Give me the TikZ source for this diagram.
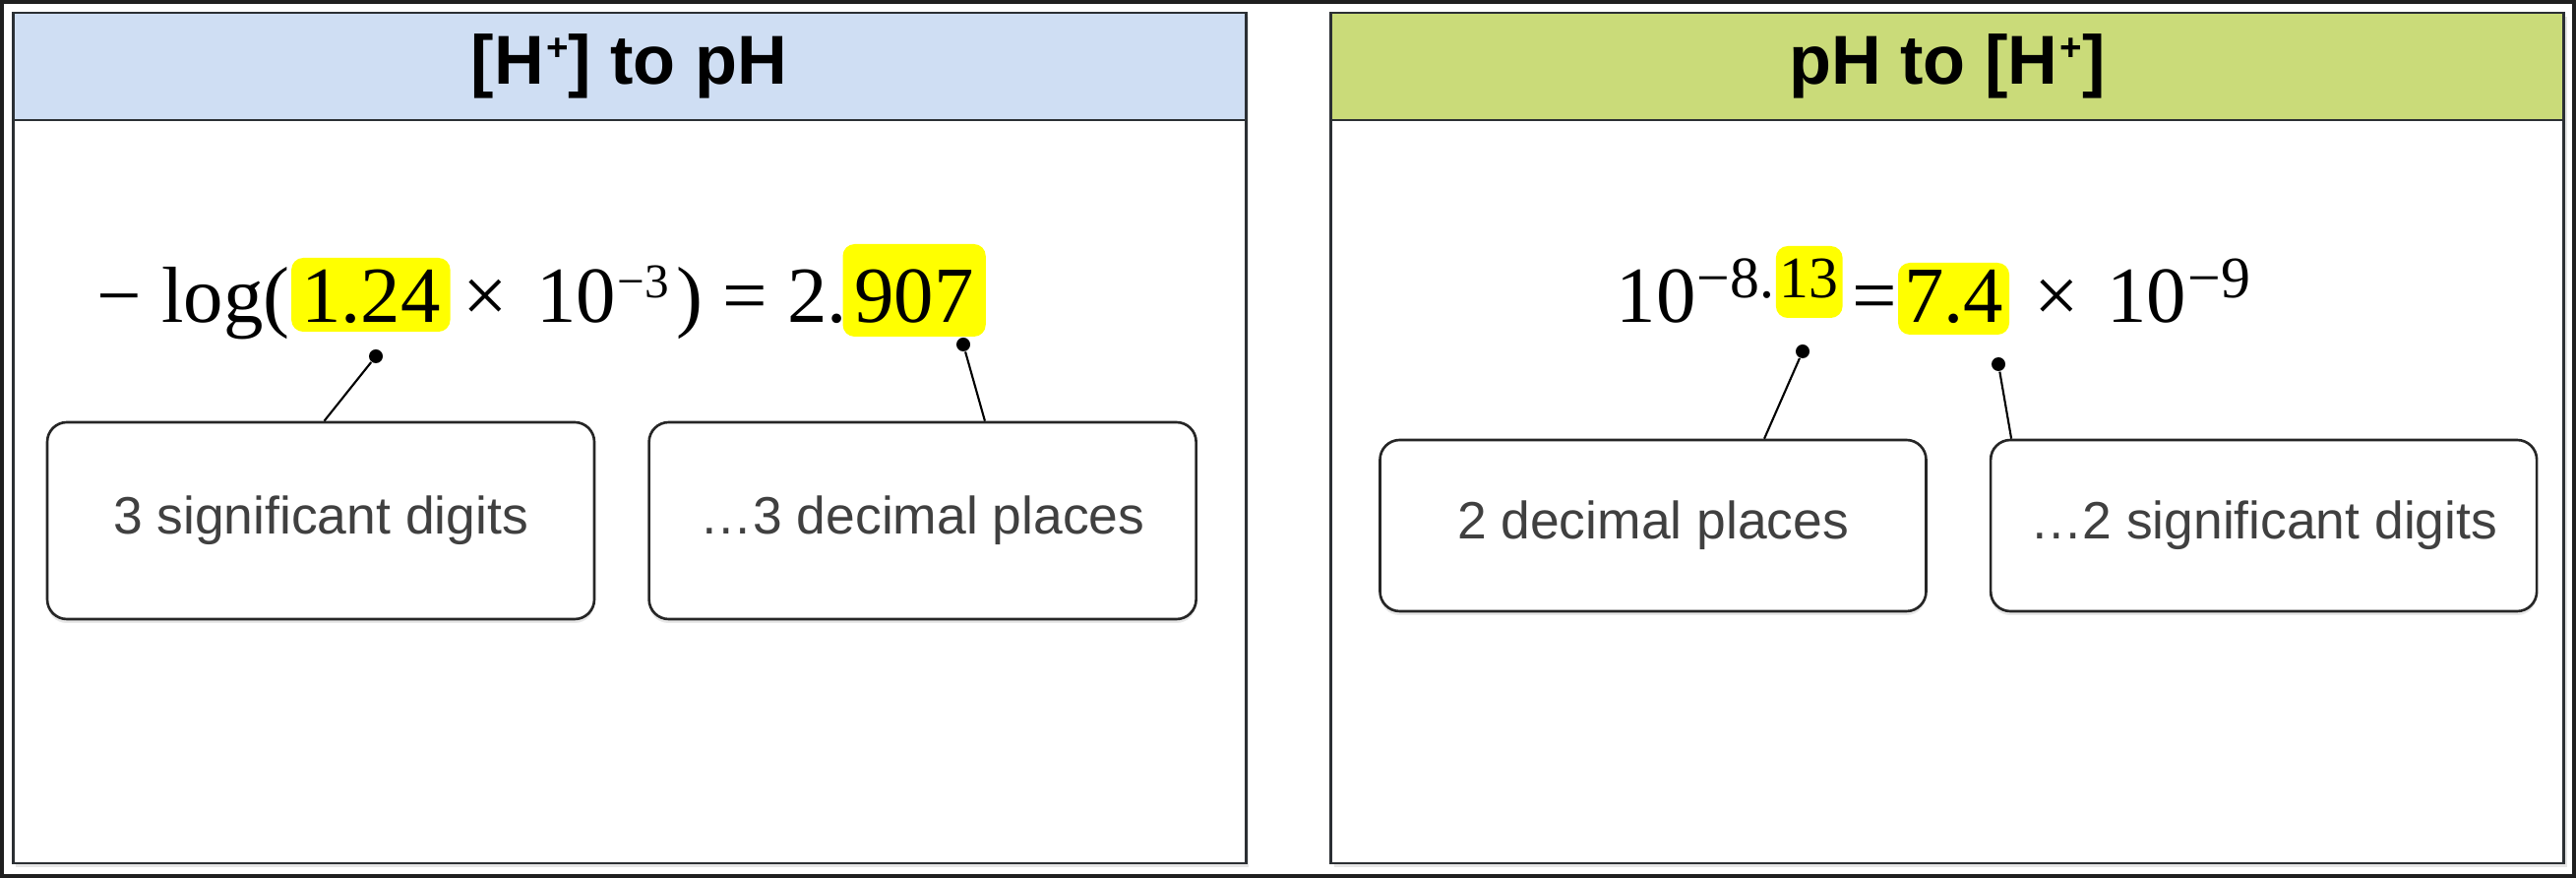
\documentclass[tikz,border=0pt]{standalone}
\usepackage{fontspec}
\setmainfont{Liberation Sans}
\newfontfamily\eqfont{Liberation Serif}
\usetikzlibrary{positioning,shadows}

\definecolor{hdrblue}{HTML}{CFDEF3}
\definecolor{hdrgreen}{HTML}{CADB79}
\definecolor{panelline}{HTML}{2B2F33}
\definecolor{notegray}{HTML}{404040}
\definecolor{marker}{HTML}{FFFF00}

\newcommand{\plussup}{\hspace{0.2mm}\raisebox{2.4mm}{\fontsize{11}{11}\selectfont +}}

\begin{document}
\begin{tikzpicture}[
    x=0.1mm, y=-0.1mm,
    node distance=5.3mm,
    panel/.style={rectangle, draw=panelline, line width=0.85pt, fill=white, minimum width=125.3mm, minimum height=86.4mm, inner sep=0pt,
        drop shadow={shadow xshift=0.3mm, shadow yshift=-0.4mm, opacity=0.2}},
    header/.style={rectangle, draw=panelline, line width=0.85pt, minimum width=125.3mm, minimum height=10.9mm, inner sep=0pt, anchor=north, font=\fontsize{20}{20}\selectfont\bfseries},
    note/.style={rectangle, draw=black!85, line width=0.75pt, rounded corners=2mm, fill=white, text=notegray, font=\fontsize{15.2}{15.2}\selectfont,
        drop shadow={shadow xshift=0mm, shadow yshift=-0.4mm, opacity=0.18}},
    eq/.style={inner sep=0pt, anchor=base west, font=\eqfont\fontsize{23}{23}\selectfont},
    supL/.style={inner sep=0pt, anchor=base west, font=\eqfont\fontsize{14}{14}\selectfont},
    supR/.style={inner sep=0pt, anchor=base west, font=\eqfont\fontsize{17}{17}\selectfont},
    hl/.style={fill=marker, rounded corners=1.2mm, inner ysep=0pt, inner xsep=1mm},
    dotmark/.style={circle, fill=black, inner sep=0pt, minimum size=1.4mm},
    link/.style={line width=0.6pt}
]
\useasboundingbox (0,0) rectangle (2618,892);
\fill[white] (0,0) rectangle (2618,892);
\draw[line width=0.4mm, color=black!88] (2,2) rectangle (2616,890);

% Panels
\node[panel] (leftP) at (639.5,445) {};
\node[header, fill=hdrblue] (leftH) at (leftP.north) {[H\plussup] to pH};
\node[panel] (rightP) at (1979,445) {};
\node[header, fill=hdrgreen] (rightH) at (rightP.north) {pH to [H\plussup]};

% Left equation
\node[eq] (lgA) at (98,328) {− log(};
\node[eq, hl, text height=6.6mm, text depth=0.9mm] (sigA) at (lgA.base east) {1.24};
\node[eq] (lgB) at (sigA.base east) {\hspace{1.2mm}×\hspace{2.9mm}10};
\node[supL] (expL) at ([yshift=2.5mm]lgB.base east) {−3};
\node[eq] (lgC) at (lgB.base -| expL.east) {\hspace{0.6mm})\ =\ 2.};
\node[eq, hl, inner xsep=1.2mm, text height=8mm, text depth=1.4mm] (decA) at ([xshift=-0.6mm]lgC.base east) {907};

% Right equation
\node[eq] (tenA) at (1642,328) {10};
\node[supR] (expR) at ([yshift=2.5mm]tenA.base east) {−8.};
\node[supR, hl, inner xsep=0.4mm, text height=5.3mm, text depth=2mm] (decB) at (expR.base east) {13};
\node[eq] (eqB) at (tenA.base -| decB.east) {\hspace{0.8mm}=\hspace{1.2mm}};
\node[eq, hl, inner xsep=0.6mm, text height=6.1mm, text depth=1.2mm] (sigB) at (eqB.base east) {7.4};
\node[eq] (tenB) at (sigB.base east) {\hspace{2.4mm}×\hspace{2.8mm}10};
\node[supR] (expS) at ([yshift=2.5mm]tenB.base east) {−9};

% Notes
\node[note, minimum width=55.6mm, minimum height=20mm] (boxA) at (326,529) {3 significant digits};
\node[note, minimum width=55.6mm, minimum height=20mm, right=of boxA] (boxB) {…3 decimal places};
\node[note, minimum width=55.5mm, minimum height=17.4mm] (boxC) at (1680,534) {2 decimal places};
\node[note, minimum width=55.5mm, minimum height=17.4mm, right=6.3mm of boxC] (boxD) {…2 significant digits};

% Pointers
\node[dotmark] (pA) at (382,362) {};
\node[dotmark] (pB) at (979,350) {};
\node[dotmark] (pC) at (1832,357) {};
\node[dotmark] (pD) at (2031,370) {};
\draw[link] (pA) -- (boxA.88);
\draw[link] (pB) -- (boxB.58);
\draw[link] (pC) -- (boxC.38);
\draw[link] (pD) -- (boxD.161);

\end{tikzpicture}
\end{document}
